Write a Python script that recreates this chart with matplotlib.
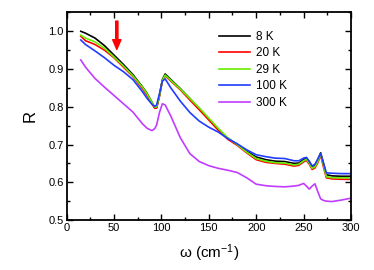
import matplotlib
matplotlib.use('Agg')
import matplotlib.pyplot as plt
from matplotlib.ticker import MultipleLocator, FormatStrFormatter

plt.rcParams['font.family'] = ['Liberation Sans', 'DejaVu Sans']
plt.rcParams['mathtext.fontset'] = 'custom'
plt.rcParams['mathtext.rm'] = 'Liberation Sans'
plt.rcParams['mathtext.it'] = 'Liberation Sans'

# frecuencias (cm-1)
omega = [15, 20, 30, 40, 50, 60, 70, 80, 85, 90, 93, 95, 98, 101, 104, 110,
         120, 130, 140, 150, 160, 170, 180, 190, 200, 210, 220, 230, 240, 245,
         250, 253, 256, 259, 262, 265, 268, 271, 274, 280, 290, 300]

r_8k = [1.000, 0.995, 0.982, 0.962, 0.937, 0.912, 0.885, 0.853, 0.835, 0.812,
        0.797, 0.798, 0.830, 0.872, 0.887, 0.872, 0.848, 0.822, 0.795, 0.768,
        0.740, 0.716, 0.700, 0.682, 0.667, 0.660, 0.656, 0.655, 0.650, 0.651,
        0.660, 0.664, 0.655, 0.642, 0.645, 0.660, 0.678, 0.650, 0.620, 0.617,
        0.616, 0.616]

r_20k = [0.987, 0.975, 0.965, 0.950, 0.930, 0.905, 0.880, 0.848, 0.830, 0.808,
         0.796, 0.797, 0.828, 0.868, 0.882, 0.868, 0.845, 0.818, 0.792, 0.765,
         0.738, 0.714, 0.698, 0.678, 0.660, 0.653, 0.650, 0.648, 0.643, 0.645,
         0.654, 0.658, 0.648, 0.634, 0.638, 0.652, 0.672, 0.640, 0.612, 0.609,
         0.608, 0.608]

r_29k = [0.990, 0.982, 0.972, 0.955, 0.932, 0.908, 0.882, 0.852, 0.834, 0.812,
         0.799, 0.800, 0.830, 0.870, 0.884, 0.870, 0.847, 0.822, 0.797, 0.770,
         0.743, 0.718, 0.700, 0.680, 0.663, 0.656, 0.652, 0.651, 0.646, 0.648,
         0.657, 0.661, 0.651, 0.637, 0.641, 0.656, 0.675, 0.645, 0.615, 0.612,
         0.612, 0.612]

r_100k = [0.977, 0.965, 0.948, 0.930, 0.910, 0.893, 0.872, 0.840, 0.822, 0.807,
          0.801, 0.805, 0.835, 0.868, 0.874, 0.850, 0.815, 0.785, 0.762, 0.746,
          0.733, 0.716, 0.702, 0.686, 0.673, 0.668, 0.664, 0.663, 0.657, 0.657,
          0.664, 0.666, 0.655, 0.643, 0.648, 0.662, 0.676, 0.650, 0.625, 0.624,
          0.623, 0.623]

r_300k = [0.924, 0.905, 0.875, 0.852, 0.830, 0.808, 0.786, 0.755, 0.743, 0.737,
          0.742, 0.752, 0.785, 0.808, 0.805, 0.775, 0.718, 0.676, 0.655, 0.644,
          0.637, 0.632, 0.626, 0.612, 0.595, 0.591, 0.589, 0.588, 0.590, 0.592,
          0.597, 0.590, 0.582, 0.590, 0.596, 0.575, 0.556, 0.552, 0.550, 0.549,
          0.553, 0.558]

etiquetas = ['8 K', '20 K', '29 K', '100 K', '300 K']
colores = ['#000000', '#ff0000', '#66ee00', '#1f3dff', '#c13cff']
series = [r_8k, r_20k, r_29k, r_100k, r_300k]

fig = plt.figure(figsize=(3.74, 2.70), dpi=100)
ax = fig.add_axes([0.178, 0.185, 0.7605, 0.769])

for datos, color, etiqueta in zip(series, colores, etiquetas):
    ax.plot(omega, datos, color=color, lw=1.2, label=etiqueta)

# flecha roja
ax.annotate('', xy=(53, 0.952), xytext=(53, 1.027),
            arrowprops=dict(color='#ff0000', width=1.6, headwidth=6,
                            headlength=7, shrink=0))

ax.set_xlim(0, 300)
ax.set_ylim(0.5, 1.05)
ax.xaxis.set_major_locator(MultipleLocator(50))
ax.xaxis.set_minor_locator(MultipleLocator(25))
ax.yaxis.set_major_locator(MultipleLocator(0.1))
ax.yaxis.set_minor_locator(MultipleLocator(0.05))
ax.yaxis.set_major_formatter(FormatStrFormatter('%.1f'))
ax.tick_params(which='both', direction='in', top=True, right=True,
               labelsize=8, width=1.0, pad=2)
ax.tick_params(which='major', length=4)
ax.tick_params(which='minor', length=2.5)
for s in ax.spines.values():
    s.set_linewidth(1.3)

ax.set_xlabel('ω (cm$^{-1}$)', fontsize=11, labelpad=7)
ax.set_ylabel('R', fontsize=12, labelpad=8)

ax.legend(loc='upper left', bbox_to_anchor=(0.536, 0.912), frameon=False,
          fontsize=8.5, handlelength=2.6, handletextpad=0.5,
          labelspacing=0.38, borderpad=0, borderaxespad=0)

plt.savefig('out.png', dpi=100)
